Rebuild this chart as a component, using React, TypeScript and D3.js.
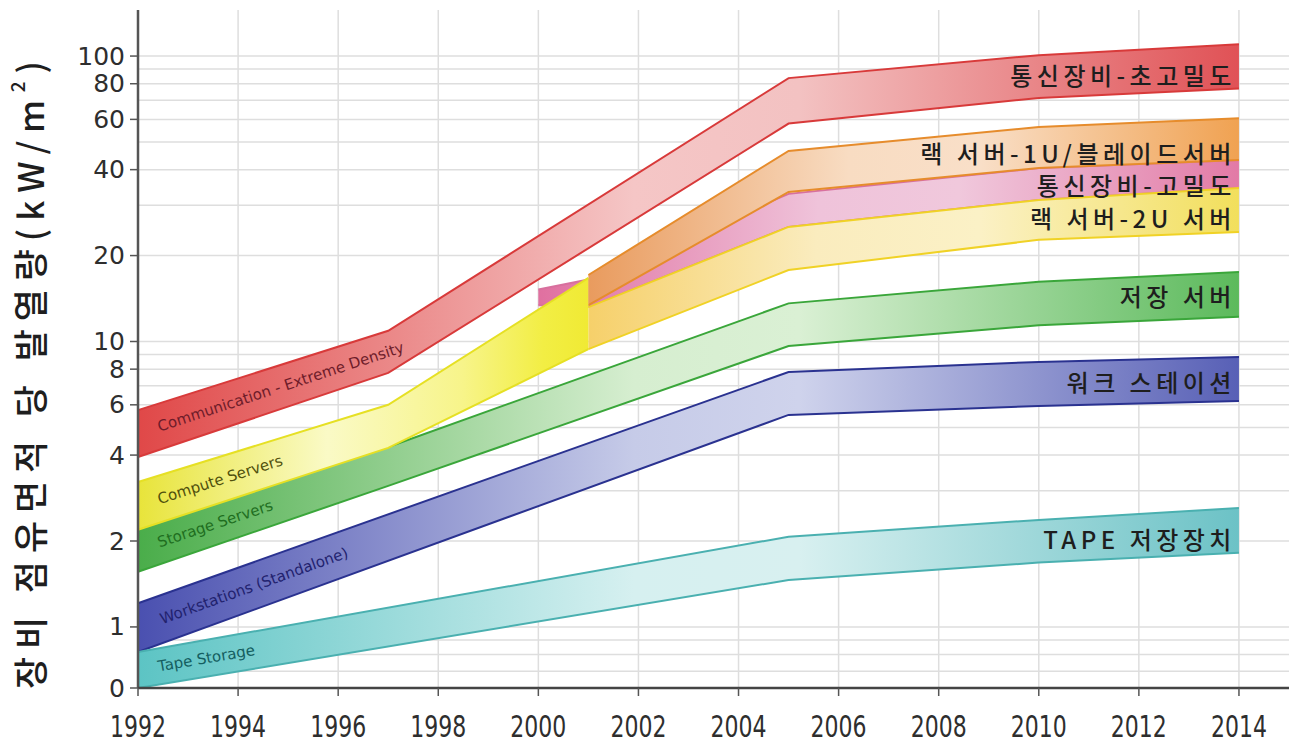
import React from "react";
import * as d3 from "d3";

const W = 1316;
const H = 755;

// ---- axis data ----
const Y_BOTTOM = 0.611; // value drawn at the "0" tick
const Y_TOP = 145;
const xTickYears = [1992, 1994, 1996, 1998, 2000, 2002, 2004, 2006, 2008, 2010, 2012, 2014];
const yTickValues = [Y_BOTTOM, 1, 2, 4, 6, 8, 10, 20, 40, 60, 80, 100];
const yTickLabels = ["0", "1", "2", "4", "6", "8", "10", "20", "40", "60", "80", "100"];
const yGridValues = [0.7, 0.8, 0.9, 1, 2, 3, 4, 5, 6, 7, 8, 9, 10, 20, 30, 40, 50, 60, 70, 80, 90, 100];

// ---- band data (kW/m2) ----
const commExtremeYears = [1992, 1997, 2005, 2010, 2014];
const commExtremeTop = [5.75, 10.9, 83.7, 100.7, 110];
const commExtremeBottom = [3.94, 7.76, 58, 71.3, 77];

const computeYears = [1992, 1997, 2001];
const computeTop = [3.22, 6.0, 16.7];
const computeBottom = [2.19, 4.24, 9.4];

const rack1UYears = [2001, 2005, 2010, 2014];
const rack1UTop = [17.1, 46.5, 56.4, 60.6];
const rack1UBottom = [13.4, 33.4, 40.5, 43.2];

const commHighYears = [2000, 2001, 2005, 2010, 2014];
const commHighTop = [15.2, 16.5, 32.9, 40.5, 43.2];
const commHighBottom = [13.4, 13.2, 25.2, 31.3, 34.5];

const rack2UYears = [2001, 2005, 2010, 2014];
const rack2UTop = [13.2, 25.2, 31.3, 34.5];
const rack2UBottom = [9.4, 17.8, 22.7, 24.2];

const storageYears = [1992, 1997, 2005, 2010, 2014];
const storageTop = [2.24, 4.27, 13.6, 16.2, 17.5];
const storageBottom = [1.56, 3.12, 9.64, 11.4, 12.2];

const workstationYears = [1992, 2005, 2010, 2014];
const workstationTop = [1.21, 7.82, 8.48, 8.83];
const workstationBottom = [0.817, 5.53, 5.94, 6.19];

const tapeYears = [1992, 2005, 2010, 2014];
const tapeTop = [0.817, 2.07, 2.37, 2.61];
const tapeBottom = [0.611, 1.46, 1.68, 1.82];

// ---- labels ----
const englishLabels = [
  "Communication - Extreme Density",
  "Compute Servers",
  "Storage Servers",
  "Workstations (Standalone)",
  "Tape Storage",
];
const englishLabelYears = [1992.4, 1992.4, 1992.4, 1992.45, 1992.4];

const koreanLabels = [
  "통신장비-초고밀도",
  "랙 서버-1U/블레이드서버",
  "통신장비-고밀도",
  "랙 서버-2U 서버",
  "저장 서버",
  "워크 스테이션",
  "TAPE 저장장치",
];

type Band = {
  id: string;
  years: number[];
  top: number[];
  bottom: number[];
  stops: [number, string][];
  stroke: string;
};

const bands: Band[] = [
  {
    id: "commHigh",
    years: commHighYears,
    top: commHighTop,
    bottom: commHighBottom,
    stops: [[0, "#e070a0"], [0.4, "#efc3da"], [0.6, "#f0c8dc"], [1, "#e27aa6"]],
    stroke: "#d8709e",
  },
  {
    id: "rack2U",
    years: rack2UYears,
    top: rack2UTop,
    bottom: rack2UBottom,
    stops: [[0, "#f6d06a"], [0.35, "#faecbe"], [0.6, "#fbf1c6"], [1, "#f2df5c"]],
    stroke: "#f0d226",
  },
  {
    id: "rack1U",
    years: rack1UYears,
    top: rack1UTop,
    bottom: rack1UBottom,
    stops: [[0, "#e99b5e"], [0.4, "#f8dcc2"], [0.6, "#f9dfc8"], [1, "#f0a252"]],
    stroke: "#e68c2c",
  },
  {
    id: "storage",
    years: storageYears,
    top: storageTop,
    bottom: storageBottom,
    stops: [[0, "#4aad4a"], [0.45, "#d6eed0"], [0.6, "#daf0d4"], [1, "#5cba5c"]],
    stroke: "#3aa63a",
  },
  {
    id: "compute",
    years: computeYears,
    top: computeTop,
    bottom: computeBottom,
    stops: [[0, "#e8e43a"], [0.42, "#fafac6"], [0.72, "#f7f48a"], [0.9, "#f2ee44"], [1, "#f0ea34"]],
    stroke: "#e6e024",
  },
  {
    id: "workstation",
    years: workstationYears,
    top: workstationTop,
    bottom: workstationBottom,
    stops: [[0, "#4a50b0"], [0.45, "#c6cbe8"], [0.6, "#cfd3ec"], [1, "#5860b6"]],
    stroke: "#2a3290",
  },
  {
    id: "tape",
    years: tapeYears,
    top: tapeTop,
    bottom: tapeBottom,
    stops: [[0, "#5cc4c4"], [0.45, "#d6f0f0"], [0.6, "#d8f0f0"], [1, "#6cc2c6"]],
    stroke: "#4ab0b0",
  },
  {
    id: "commExtreme",
    years: commExtremeYears,
    top: commExtremeTop,
    bottom: commExtremeBottom,
    stops: [[0, "#e04848"], [0.45, "#f5c6c6"], [0.6, "#f3c2c2"], [1, "#e05256"]],
    stroke: "#d83a3a",
  },
];

// style for labels (not data)
const englishLabelBands = ["commExtreme", "compute", "storage", "workstation", "tape"];
const englishLabelColors = ["#6e1c2a", "#50500c", "#1f6e1f", "#22226e", "#145e60"];
const koreanLabelBands = ["commExtreme", "rack1U", "commHigh", "rack2U", "storage", "workstation", "tape"];
const koreanLabelOffsets = [8, 13, 10, 8, 1, 3, 8];

const x = d3.scaleLinear().domain([1992, 2015]).range([138, 1289]);
const y = d3.scaleLog().domain([Y_BOTTOM, Y_TOP]).range([688, 10]);

function bandById(id: string): Band {
  return bands.find((b) => b.id === id)!;
}

function logInterp(years: number[], vals: number[], t: number): number {
  for (let i = 0; i < years.length - 1; i++) {
    if (t >= years[i] && t <= years[i + 1]) {
      const f = (t - years[i]) / (years[i + 1] - years[i]);
      return Math.exp(Math.log(vals[i]) * (1 - f) + Math.log(vals[i + 1]) * f);
    }
  }
  return vals[vals.length - 1];
}

function midPixel(b: Band, t: number): number {
  const top = y(logInterp(b.years, b.top, t));
  const bot = y(logInterp(b.years, b.bottom, t));
  return (top + bot) / 2;
}

export default function App() {
  const sans = "'DejaVu Sans', Verdana, sans-serif";
  const kr = "'Noto Sans CJK KR', 'Noto Sans', sans-serif";

  return (
    <svg
      width={W}
      height={H}
      viewBox={`0 0 ${W} ${H}`}
      style={{ position: "absolute", left: 0, top: 0, background: "#fff" }}
    >
      <defs>
        {bands.map((b) => (
          <linearGradient
            key={b.id}
            id={`g-${b.id}`}
            gradientUnits="userSpaceOnUse"
            x1={x(b.years[0])}
            x2={x(b.years[b.years.length - 1])}
            y1={0}
            y2={0}
          >
            {b.stops.map(([o, c], i) => (
              <stop key={i} offset={o} stopColor={c} />
            ))}
          </linearGradient>
        ))}
      </defs>

      {/* grid */}
      <g stroke="#dedede" strokeWidth={1.5}>
        {yGridValues.map((v) => (
          <line key={`h${v}`} x1={x(1992)} x2={x(2015)} y1={y(v)} y2={y(v)} />
        ))}
        {xTickYears
          .filter((t) => t > 1992)
          .map((t) => (
            <line key={`v${t}`} x1={x(t)} x2={x(t)} y1={y(Y_TOP)} y2={y(Y_BOTTOM)} />
          ))}
      </g>

      {/* bands */}
      {bands.map((b) => {
        const idx = b.years.map((_, i) => i);
        const areaGen = d3
          .area<number>()
          .x((i) => x(b.years[i]))
          .y0((i) => y(b.bottom[i]))
          .y1((i) => y(b.top[i]));
        const topLine = d3
          .line<number>()
          .x((i) => x(b.years[i]))
          .y((i) => y(b.top[i]));
        const botLine = d3
          .line<number>()
          .x((i) => x(b.years[i]))
          .y((i) => y(b.bottom[i]));
        return (
          <g key={b.id}>
            <path d={areaGen(idx)!} fill={`url(#g-${b.id})`} />
            <path d={topLine(idx)!} fill="none" stroke={b.stroke} strokeWidth={2} />
            <path d={botLine(idx)!} fill="none" stroke={b.stroke} strokeWidth={2} />
          </g>
        );
      })}

      {/* english in-band labels */}
      {englishLabels.map((txt, i) => {
        const b = bandById(englishLabelBands[i]);
        const t = englishLabelYears[i];
        const px = x(t);
        const py = midPixel(b, t);
        const py2 = midPixel(b, t + 1);
        const ang = (Math.atan2(py2 - py, x(t + 1) - px) * 180) / Math.PI;
        return (
          <text
            key={txt}
            transform={`translate(${px},${py}) rotate(${ang})`}
            fontFamily={sans}
            fontSize={15}
            fill={englishLabelColors[i]}
            dominantBaseline="central"
          >
            {txt}
          </text>
        );
      })}

      {/* korean right labels */}
      {koreanLabels.map((txt, i) => {
        const b = bandById(koreanLabelBands[i]);
        const py = midPixel(b, 2014) + koreanLabelOffsets[i];
        return (
          <text
            key={txt}
            x={x(2014) - 3}
            y={py}
            textAnchor="end"
            dominantBaseline="central"
            fontFamily={kr}
            fontSize={24}
            fontWeight={500}
            letterSpacing={4.5}
            fill="#1e1e1e"
          >
            {txt}
          </text>
        );
      })}

      {/* axes */}
      <line x1={x(1992)} x2={x(1992)} y1={y(Y_TOP)} y2={y(Y_BOTTOM)} stroke="#555" strokeWidth={2.5} />
      <line x1={x(1992)} x2={x(2015)} y1={y(Y_BOTTOM)} y2={y(Y_BOTTOM)} stroke="#444" strokeWidth={2.5} />
      {yTickValues.map((v, i) => (
        <g key={`yt${i}`}>
          <line x1={x(1992) - 8} x2={x(1992)} y1={y(v)} y2={y(v)} stroke="#555" strokeWidth={1.5} />
          <text
            x={x(1992) - 13}
            y={y(v)}
            textAnchor="end"
            dominantBaseline="central"
            fontFamily={sans}
            fontSize={25}
            fill="#2e2e2e"
          >
            {yTickLabels[i]}
          </text>
        </g>
      ))}
      {xTickYears.map((t) => (
        <g key={`xt${t}`}>
          <line x1={x(t)} x2={x(t)} y1={y(Y_BOTTOM)} y2={y(Y_BOTTOM) + 8} stroke="#555" strokeWidth={1.5} />
          <text
            x={x(t)}
            y={y(Y_BOTTOM) + 38}
            textAnchor="middle"
            dominantBaseline="central"
            fontFamily={sans}
            fontSize={30}
            textLength={56}
            lengthAdjust="spacingAndGlyphs"
            fill="#2e2e2e"
          >
            {String(t)}
          </text>
        </g>
      ))}

      {/* y-axis title */}
      <text
        transform={`translate(28, ${(60 + 690) / 2}) rotate(-90)`}
        textAnchor="middle"
        dominantBaseline="central"
        fontFamily={kr}
        fontSize={35}
        fontWeight={500}
        fill="#1e1e1e"
        textLength={628}
        lengthAdjust="spacing"
      >
        장비 점유면적 당 발열량(kW/m
        <tspan dy={-12} fontSize={19}>
          2
        </tspan>
        <tspan dy={12}>)</tspan>
      </text>
    </svg>
  );
}
